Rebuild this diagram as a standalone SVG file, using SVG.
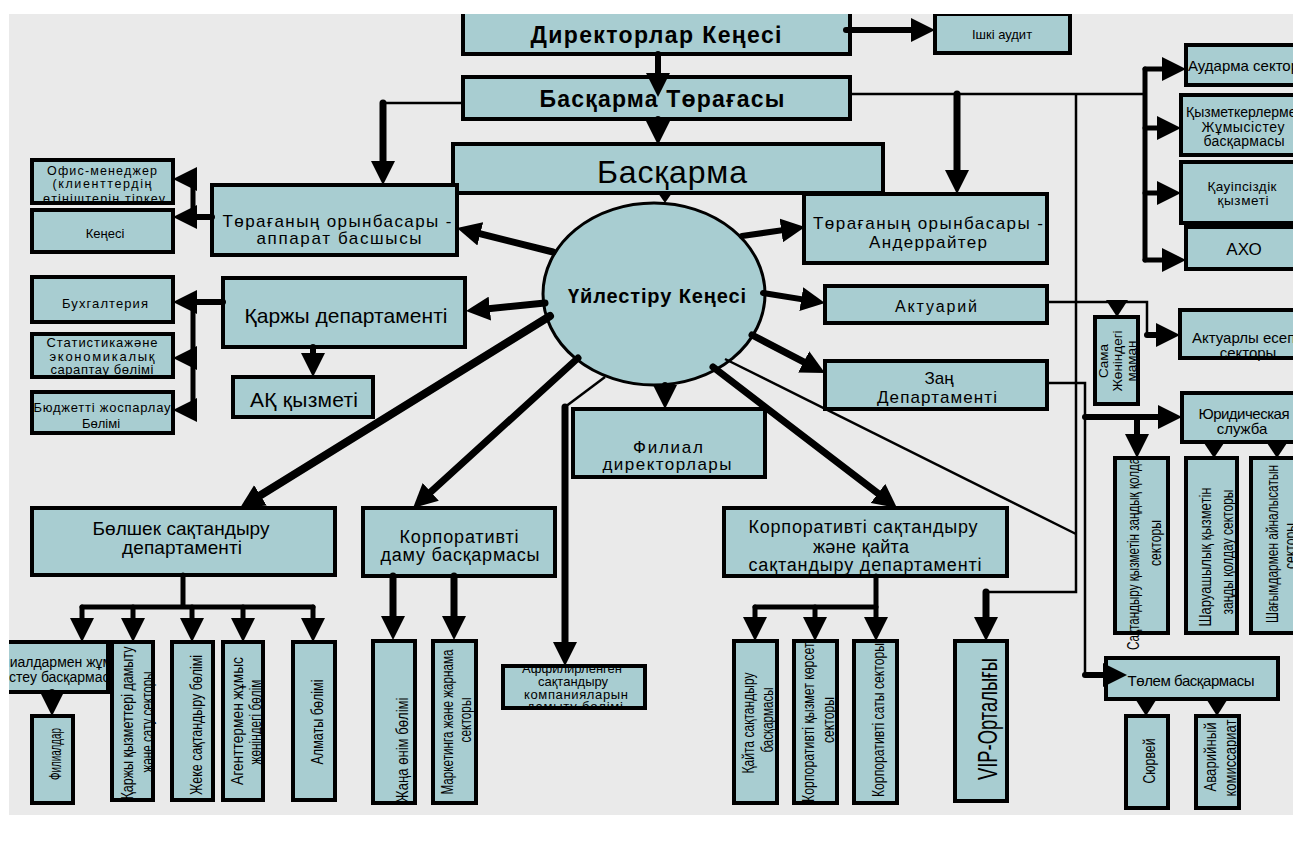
<svg xmlns="http://www.w3.org/2000/svg" width="1293" height="841" viewBox="0 0 1293 841">
<style>
.n{fill:#A8CDD1;stroke:#000;stroke-width:4}
.e{fill:#A8CDD1;stroke:#000;stroke-width:3}
text{font-family:"Liberation Sans",Arial,sans-serif;fill:#000;text-anchor:middle;dominant-baseline:central}
.s{text-anchor:start}
.bd{font-weight:bold}
.r{font-size:16px}
.k{stroke:#000;fill:none;stroke-width:6;stroke-linecap:round}
.k7{stroke:#000;fill:none;stroke-width:7;stroke-linecap:round}
.k8{stroke:#000;fill:none;stroke-width:8;stroke-linecap:round}
.m{stroke:#000;fill:none;stroke-width:5;stroke-linecap:round}
.w{stroke:#000;fill:none;stroke-width:2.5}
.h{fill:#000}
</style>
<defs>
<marker id="a" markerUnits="userSpaceOnUse" viewBox="0 0 24 24" markerWidth="24" markerHeight="24" refX="14" refY="12" orient="auto"><path d="M0,0L24,12L0,24z"/></marker>
<clipPath id="page"><rect x="9" y="14" width="1284" height="801"/></clipPath>
<clipPath id="cFil"><rect x="9" y="644" width="104" height="46"/></clipPath>
<clipPath id="cOfis"><rect x="34" y="162" width="137" height="39"/></clipPath>
<clipPath id="cAff"><rect x="505" y="668" width="138" height="38"/></clipPath>
<clipPath id="cSama"><rect x="1097" y="319" width="39" height="83"/></clipPath>
<clipPath id="cSak"><rect x="1100" y="460" width="80" height="250"/></clipPath>
<clipPath id="cKq"><rect x="780" y="643" width="70" height="170"/></clipPath>
</defs>
<rect width="1293" height="841" fill="#fff"/>
<rect x="9" y="14" width="1284" height="801" fill="#EAEAEA"/>
<g clip-path="url(#page)">
<g id="directors"><rect class="n" x="463" y="5" width="387" height="49"/><text class="bd" x="656" y="35" font-size="23" textLength="251">Директорлар Кеңесі</text></g>
<g id="audit"><rect class="n" x="935" y="14" width="135" height="39"/><text x="1002" y="34" font-size="13">Ішкі аудит</text></g>
<g id="chairman"><rect class="n" x="463" y="77" width="387" height="42"/><text class="bd" x="662" y="99" font-size="23" textLength="245">Басқарма Төрағасы</text></g>
<g id="board"><rect class="n" x="453" y="144" width="430" height="49"/><text x="672" y="172" font-size="32" textLength="150">Басқарма</text></g>
<g id="coord"><ellipse class="e" cx="654" cy="294" rx="111" ry="91"/><text class="bd" x="657" y="296" font-size="20" textLength="178">Үйлестіру Кеңесі</text></g>
<g id="deputy-apparat"><rect class="n" x="212" y="185" width="245" height="70"/><text x="337" y="221" font-size="17" textLength="229">Төрағаның орынбасары -</text><text x="339" y="238" font-size="17" textLength="165">аппарат басшысы</text></g>
<g id="office"><rect class="n" x="32" y="160" width="141" height="43"/><g clip-path="url(#cOfis)"><text x="102" y="171" font-size="12.5" textLength="110">Офис-менеджер</text><text x="102" y="184" font-size="12.5" textLength="99">(клиенттердің</text><text x="104" y="199" font-size="12.5" textLength="122">өтініштерін тіркеу</text></g></g>
<g id="kenesi"><rect class="n" x="32" y="210" width="141" height="42"/><text x="105" y="233" font-size="13">Кеңесі</text></g>
<g id="underwriter"><rect class="n" x="804" y="194" width="243" height="69"/><text x="928" y="223" font-size="17" textLength="230">Төрағаның орынбасары -</text><text x="928" y="242" font-size="17" textLength="118">Андеррайтер</text></g>
<g id="actuary"><rect class="n" x="825" y="286" width="222" height="37"/><text x="936" y="306" font-size="16" textLength="82">Актуарий</text></g>
<g id="legal"><rect class="n" x="825" y="361" width="222" height="48"/><text x="939" y="378" font-size="17">Заң</text><text x="937" y="397" font-size="17" textLength="120">Департаменті</text></g>
<g id="branch-dir"><rect class="n" x="573" y="409" width="192" height="68"/><text x="668" y="447" font-size="17" textLength="70">Филиал</text><text x="667" y="464" font-size="17" textLength="129">директорлары</text></g>
<g id="buh"><rect class="n" x="32" y="277" width="141" height="45"/><text x="105" y="303" font-size="13" textLength="86">Бухгалтерия</text></g>
<g id="stat"><rect class="n" x="32" y="334" width="141" height="43"/><text x="102" y="342" font-size="13" textLength="111">Статистикажəне</text><text x="102" y="356" font-size="13" textLength="105">экономикалық</text><text x="102" y="369" font-size="13" textLength="103">сараптау бөлімі</text></g>
<g id="budget"><rect class="n" x="32" y="392" width="141" height="41"/><text x="102" y="407" font-size="13" textLength="137">Бюджетті жоспарлау</text><text x="101" y="423" font-size="13">Бөлімі</text></g>
<g id="finance"><rect class="n" x="223" y="278" width="242" height="69"/><text x="346" y="315" font-size="21" textLength="203">Қаржы департаменті</text></g>
<g id="ak"><rect class="n" x="233" y="377" width="140" height="40"/><text x="304" y="399" font-size="21" textLength="108">АҚ қызметі</text></g>
<g id="audarma"><rect class="n" x="1186" y="45" width="124" height="40"/><text class="s" x="1188" y="65" font-size="15">Аударма секторы</text></g>
<g id="hr"><rect class="n" x="1181" y="95" width="129" height="60"/><text class="s" x="1186" y="112" font-size="14">Қызметкерлермен</text><text x="1243" y="127" font-size="14" textLength="83">Жұмысістеу</text><text x="1244" y="141" font-size="14" textLength="81">басқармасы</text></g>
<g id="security"><rect class="n" x="1181" y="162" width="129" height="61"/><text x="1242" y="186" font-size="13.5" textLength="69">Қауіпсіздік</text><text x="1243" y="200" font-size="13.5" textLength="51">қызметі</text></g>
<g id="aho"><rect class="n" x="1186" y="227" width="124" height="42"/><text x="1244" y="249" font-size="17">АХО</text></g>
<g id="act-sector"><rect class="n" x="1180" y="310" width="130" height="48"/><text class="s" x="1192" y="337" font-size="15">Актуарлы есеп</text><text x="1248" y="352" font-size="15">секторы</text></g>
<g id="sama"><rect class="n" x="1095" y="317" width="43" height="87"/><g clip-path="url(#cSama)"><text transform="translate(1103,361) rotate(-90)" font-size="13.5">Сама</text><text transform="translate(1117,361) rotate(-90)" font-size="13.5">Жөніндегі</text><text transform="translate(1131,361) rotate(-90)" font-size="13.5">маман</text></g></g>
<g id="yurid"><rect class="n" x="1182" y="393" width="128" height="49"/><text x="1244" y="413" font-size="15" textLength="91">Юридическая</text><text x="1242" y="428" font-size="15">служба</text></g>
<g id="sak-legal"><rect class="n" x="1115" y="458" width="53" height="175"/><g clip-path="url(#cSak)"><text class="r" transform="translate(1133,551) rotate(-90)" textLength="198" lengthAdjust="spacingAndGlyphs">Сақтандыру қызметін заңдық қолдау</text></g><text class="r" transform="translate(1155,543) rotate(-90)" textLength="46" lengthAdjust="spacingAndGlyphs">секторы</text></g>
<g id="sharua"><rect class="n" x="1186" y="458" width="51" height="175"/><text class="r" transform="translate(1205,557) rotate(-90)" textLength="139" lengthAdjust="spacingAndGlyphs">Шаруашылық қызметін</text><text class="r" transform="translate(1227,552) rotate(-90)" textLength="125" lengthAdjust="spacingAndGlyphs">заңды қолдау секторы</text></g>
<g id="shagym"><rect class="n" x="1251" y="458" width="59" height="175"/><text class="r" transform="translate(1272,544) rotate(-90)" textLength="158" lengthAdjust="spacingAndGlyphs">Шағымдармен айналысатын</text><text class="r" transform="translate(1290,546) rotate(-90)" textLength="46" lengthAdjust="spacingAndGlyphs">секторы</text></g>
<g id="tolem"><rect class="n" x="1106" y="658" width="172" height="41"/><text x="1191" y="680" font-size="15" textLength="127">Төлем басқармасы</text></g>
<g id="survey"><rect class="n" x="1126" y="716" width="42" height="92"/><text class="r" transform="translate(1149,761) rotate(-90)" textLength="45" lengthAdjust="spacingAndGlyphs">Сюрвей</text></g>
<g id="avar"><rect class="n" x="1196" y="716" width="43" height="92"/><text class="r" transform="translate(1210,757) rotate(-90)" textLength="69" lengthAdjust="spacingAndGlyphs">Аварийный</text><text class="r" transform="translate(1230,758) rotate(-90)" textLength="77" lengthAdjust="spacingAndGlyphs">комиссариат</text></g>
<g id="retail"><rect class="n" x="32" y="508" width="303" height="67"/><text x="181" y="528" font-size="19" textLength="177">Бөлшек сақтандыру</text><text x="182" y="547" font-size="19" textLength="120">департаменті</text></g>
<g id="branch-mgmt"><rect class="n" x="0" y="642" width="108" height="50"/><g clip-path="url(#cFil)"><text class="s" x="-17" y="662" font-size="14">Филиалдармен жұмыс</text><text class="s" x="6" y="677" font-size="14">істеу басқармасы</text></g></g>
<g id="branches"><rect class="n" x="32" y="716" width="41" height="87"/><text class="r" transform="translate(55,754) rotate(-90)" textLength="52" lengthAdjust="spacingAndGlyphs">Филиалдар</text></g>
<g id="fin-serv"><rect class="n" x="112" y="642" width="41" height="158"/><text class="r" transform="translate(127,723) rotate(-90)" textLength="153" lengthAdjust="spacingAndGlyphs">Қаржы қызметтері дамыту</text><text class="r" transform="translate(147,722) rotate(-90)" textLength="101" lengthAdjust="spacingAndGlyphs">және сату секторы</text></g>
<g id="personal"><rect class="n" x="172" y="642" width="41" height="158"/><text class="r" transform="translate(196,725) rotate(-90)" textLength="140" lengthAdjust="spacingAndGlyphs">Жеке сақтандыру бөлімі</text></g>
<g id="agents"><rect class="n" x="223" y="642" width="40" height="158"/><text class="r" transform="translate(237,721) rotate(-90)" textLength="128" lengthAdjust="spacingAndGlyphs">Агенттермен жұмыс</text><text class="r" transform="translate(255,722) rotate(-90)" textLength="85" lengthAdjust="spacingAndGlyphs">жөніндегі бөлім</text></g>
<g id="almaty"><rect class="n" x="293" y="642" width="42" height="158"/><text class="r" transform="translate(317,722) rotate(-90)" textLength="85" lengthAdjust="spacingAndGlyphs">Алматы бөлімі</text></g>
<g id="corp-dev"><rect class="n" x="363" y="508" width="192" height="68"/><text x="459" y="537" font-size="18" textLength="119">Корпоративті</text><text x="460" y="555" font-size="18" textLength="159">даму басқармасы</text></g>
<g id="new-product"><rect class="n" x="373" y="641" width="42" height="162"/><text class="r" transform="translate(402,750) rotate(-90)" textLength="105" lengthAdjust="spacingAndGlyphs">Жаңа өнім бөлімі</text></g>
<g id="marketing"><rect class="n" x="433" y="641" width="43" height="162"/><text class="r" transform="translate(447,722) rotate(-90)" textLength="145" lengthAdjust="spacingAndGlyphs">Маркетинга және жарнама</text><text class="r" transform="translate(465,720) rotate(-90)" textLength="45" lengthAdjust="spacingAndGlyphs">секторы</text></g>
<g id="affil"><rect class="n" x="503" y="666" width="142" height="42"/><g clip-path="url(#cAff)"><text x="572" y="668" font-size="13">Аффилирленген</text><text x="573" y="681" font-size="13">сақтандыру</text><text x="576" y="694" font-size="13" textLength="104">компанияларын</text><text x="575" y="706" font-size="13" textLength="96">дамыту бөлімі</text></g></g>
<g id="corp-ins"><rect class="n" x="724" y="508" width="283" height="68"/><text x="863" y="527" font-size="18" textLength="229">Корпоративті сақтандыру</text><text x="861" y="547" font-size="18" textLength="96">және қайта</text><text x="865" y="565" font-size="18" textLength="233">сақтандыру департаменті</text></g>
<g id="reins"><rect class="n" x="734" y="641" width="43" height="162"/><text class="r" transform="translate(748,723) rotate(-90)" textLength="101" lengthAdjust="spacingAndGlyphs">Қайта сақтандыру</text><text class="r" transform="translate(767,720) rotate(-90)" textLength="65" lengthAdjust="spacingAndGlyphs">басқармасы</text></g>
<g id="corp-serv"><rect class="n" x="794" y="641" width="43" height="162"/><g clip-path="url(#cKq)"><text class="r" transform="translate(808,719) rotate(-90)" textLength="166" lengthAdjust="spacingAndGlyphs">Корпоративті қызмет көрсету</text></g><text class="r" transform="translate(828,720) rotate(-90)" textLength="46" lengthAdjust="spacingAndGlyphs">секторы</text></g>
<g id="corp-sales"><rect class="n" x="854" y="641" width="43" height="162"/><text class="r" transform="translate(878,720) rotate(-90)" textLength="154" lengthAdjust="spacingAndGlyphs">Корпоративті саты секторы</text></g>
<g id="vip"><rect class="n" x="955" y="641" width="52" height="160"/><text transform="translate(987,719) rotate(-90)" font-size="28" textLength="122" lengthAdjust="spacingAndGlyphs">VIP-Орталығы</text></g>
<g id="connectors">
<path class="k" d="M846,30H925" marker-end="url(#a)"/>
<path class="k" d="M658,54V87" marker-end="url(#a)"/>
<path class="k" d="M658,119V135" marker-end="url(#a)"/>
<polygon class="h" points="658,193 672,193 665,203"/>
<path class="w" d="M463,103H383"/>
<path class="k7" d="M383,103V175" marker-end="url(#a)"/>
<path class="w" d="M850,94H1145"/>
<path class="k7" d="M957,94V184" marker-end="url(#a)"/>
<path class="w" d="M1076,94V592H986"/>
<path class="k7" d="M986,592V631" marker-end="url(#a)"/>
<path class="m" d="M1145,69V260"/>
<path class="m" d="M1145,69H1176" marker-end="url(#a)"/>
<path class="m" d="M1145,128H1171" marker-end="url(#a)"/>
<path class="m" d="M1145,193H1171" marker-end="url(#a)"/>
<path class="m" d="M1145,260H1176" marker-end="url(#a)"/>
<path class="m" d="M193,179V217"/>
<path class="k" d="M212,217H183" marker-end="url(#a)"/>
<path class="m" d="M193,179H183" marker-end="url(#a)"/>
<path class="m" d="M193,302V410"/>
<path class="k" d="M223,302H183" marker-end="url(#a)"/>
<path class="m" d="M193,358H183" marker-end="url(#a)"/>
<path class="m" d="M193,410H183" marker-end="url(#a)"/>
<path class="k" d="M313,347V367" marker-end="url(#a)"/>
<path class="k7" d="M553,252L466.7,230.4" marker-end="url(#a)"/>
<path class="k7" d="M545,303L475.9,310" marker-end="url(#a)"/>
<path class="k" d="M742,236L795.1,228.4" marker-end="url(#a)"/>
<path class="k" d="M763,293L815.1,301.4" marker-end="url(#a)"/>
<path class="k7" d="M752,335L816.1,368.4" marker-end="url(#a)"/>
<path class="k" d="M665,385V399" marker-end="url(#a)"/>
<path class="k8" d="M550,316L248.5,502.7" marker-end="url(#a)"/>
<path class="k7" d="M578,358L420.4,501.3" marker-end="url(#a)"/>
<path class="w" d="M605,377L565,407"/>
<path class="k7" d="M565,407V656" marker-end="url(#a)"/>
<path class="k7" d="M713,367L889.1,501.9" marker-end="url(#a)"/>
<path class="w" d="M725,359L1076,534"/>
<path class="w" d="M1047,302H1147V335"/>
<path class="k" d="M1147,335H1170" marker-end="url(#a)"/>
<polygon class="h" points="1106,300 1128,300 1117,317"/>
<path class="w" d="M1047,383H1085V675"/>
<path class="k" d="M1085,675H1117" marker-end="url(#a)"/>
<path class="k" d="M1085,417H1172" marker-end="url(#a)"/>
<path class="k" d="M1137,417V448" marker-end="url(#a)"/>
<polygon class="h" points="1202,440 1226,440 1214,458"/>
<polygon class="h" points="1265,440 1289,440 1277,458"/>
<polygon class="h" points="1134,697 1158,697 1146,716"/>
<polygon class="h" points="1205,697 1229,697 1217,716"/>
<path class="m" d="M183,575V607M82,607H313"/>
<path class="m" d="M82,607V632" marker-end="url(#a)"/>
<path class="m" d="M133,607V632" marker-end="url(#a)"/>
<path class="m" d="M192,607V632" marker-end="url(#a)"/>
<path class="m" d="M243,607V632" marker-end="url(#a)"/>
<path class="m" d="M313,607V632" marker-end="url(#a)"/>
<path class="k" d="M52,692V706" marker-end="url(#a)"/>
<path class="k7" d="M393,576V630" marker-end="url(#a)"/>
<path class="k7" d="M454,576V630" marker-end="url(#a)"/>
<path class="m" d="M876,576V607M755,607H876"/>
<path class="m" d="M755,607V631" marker-end="url(#a)"/>
<path class="m" d="M815,607V631" marker-end="url(#a)"/>
<path class="m" d="M876,607V631" marker-end="url(#a)"/>
</g>
</g>
</svg>
